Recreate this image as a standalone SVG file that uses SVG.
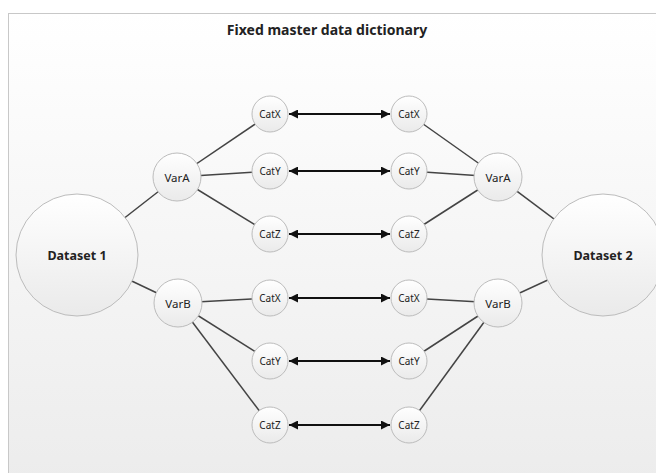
<svg xmlns="http://www.w3.org/2000/svg" width="656" height="473" viewBox="0 0 656 473">
<defs>
<linearGradient id="bg" x1="0" y1="0" x2="0" y2="1"><stop offset="0" stop-color="#ffffff"/><stop offset="1" stop-color="#ececec"/></linearGradient>
<linearGradient id="nf" x1="0" y1="0" x2="0" y2="1"><stop offset="0" stop-color="#ffffff"/><stop offset="1" stop-color="#eaeaea"/></linearGradient>
<marker id="ah" viewBox="0 0 10 10" refX="10" refY="5" markerWidth="11" markerHeight="9" markerUnits="userSpaceOnUse" orient="auto-start-reverse"><path d="M0,0 L10,5 L0,10 z" fill="#111"/></marker>
</defs>
<style>
.n{fill:url(#nf);stroke:#bcbcbc;stroke-width:1}
.t{font-family:"Noto Sans","Liberation Sans",sans-serif;fill:#222;text-anchor:middle;dominant-baseline:central}
.c{stroke:#444;stroke-width:1.5;fill:none}
.a{stroke:#111;stroke-width:2;fill:none;marker-start:url(#ah);marker-end:url(#ah)}
</style>
<rect x="0" y="0" width="656" height="473" fill="#ffffff"/>
<rect x="8.5" y="13.5" width="660" height="470" fill="url(#bg)" stroke="#c8c8c8" stroke-width="1"/>
<text class="t" x="327" y="29" font-size="14" font-weight="bold">Fixed master data dictionary</text>
<g id="connectors">
<line class="c" x1="77" y1="255" x2="177" y2="177"/>
<line class="c" x1="77" y1="255" x2="178" y2="303"/>
<line class="c" x1="177" y1="177" x2="270" y2="114"/>
<line class="c" x1="177" y1="177" x2="270" y2="171"/>
<line class="c" x1="177" y1="177" x2="270" y2="234"/>
<line class="c" x1="178" y1="303" x2="270" y2="298"/>
<line class="c" x1="178" y1="303" x2="270" y2="361"/>
<line class="c" x1="178" y1="303" x2="270" y2="425"/>
<line class="c" x1="409" y1="114" x2="498" y2="177"/>
<line class="c" x1="409" y1="171" x2="498" y2="177"/>
<line class="c" x1="409" y1="234" x2="498" y2="177"/>
<line class="c" x1="409" y1="298" x2="498" y2="303"/>
<line class="c" x1="409" y1="361" x2="498" y2="303"/>
<line class="c" x1="409" y1="425" x2="498" y2="303"/>
<line class="c" x1="498" y1="177" x2="602" y2="255"/>
<line class="c" x1="498" y1="303" x2="602" y2="255"/>
<line class="a" x1="289" y1="114" x2="390" y2="114"/>
<line class="a" x1="289" y1="171" x2="390" y2="171"/>
<line class="a" x1="289" y1="234" x2="390" y2="234"/>
<line class="a" x1="289" y1="298" x2="390" y2="298"/>
<line class="a" x1="289" y1="361" x2="390" y2="361"/>
<line class="a" x1="289" y1="425" x2="390" y2="425"/>
</g>
<g id="dataset1"><circle class="n" cx="77" cy="255" r="61"/><text class="t" x="77" y="255" font-size="12.5" font-weight="bold">Dataset 1</text></g>
<g id="dataset2"><circle class="n" cx="603" cy="255" r="61"/><text class="t" x="603" y="255" font-size="12.5" font-weight="bold">Dataset 2</text></g>
<g id="varA1"><circle class="n" cx="177" cy="177" r="24"/><text class="t" x="177" y="177" font-size="11.5">VarA</text></g>
<g id="varB1"><circle class="n" cx="178" cy="303" r="24"/><text class="t" x="178" y="303" font-size="11.5">VarB</text></g>
<g id="varA2"><circle class="n" cx="498" cy="177" r="24"/><text class="t" x="498" y="177" font-size="11.5">VarA</text></g>
<g id="varB2"><circle class="n" cx="498" cy="303" r="24"/><text class="t" x="498" y="303" font-size="11.5">VarB</text></g>
<g id="catX1a"><circle class="n" cx="270" cy="114" r="18"/><text class="t" x="270" y="114" font-size="10">CatX</text></g>
<g id="catY1a"><circle class="n" cx="270" cy="171" r="18"/><text class="t" x="270" y="171" font-size="10">CatY</text></g>
<g id="catZ1a"><circle class="n" cx="270" cy="234" r="18"/><text class="t" x="270" y="234" font-size="10">CatZ</text></g>
<g id="catX1b"><circle class="n" cx="270" cy="298" r="18"/><text class="t" x="270" y="298" font-size="10">CatX</text></g>
<g id="catY1b"><circle class="n" cx="270" cy="361" r="18"/><text class="t" x="270" y="361" font-size="10">CatY</text></g>
<g id="catZ1b"><circle class="n" cx="270" cy="425" r="18"/><text class="t" x="270" y="425" font-size="10">CatZ</text></g>
<g id="catX2a"><circle class="n" cx="409" cy="114" r="18"/><text class="t" x="409" y="114" font-size="10">CatX</text></g>
<g id="catY2a"><circle class="n" cx="409" cy="171" r="18"/><text class="t" x="409" y="171" font-size="10">CatY</text></g>
<g id="catZ2a"><circle class="n" cx="409" cy="234" r="18"/><text class="t" x="409" y="234" font-size="10">CatZ</text></g>
<g id="catX2b"><circle class="n" cx="409" cy="298" r="18"/><text class="t" x="409" y="298" font-size="10">CatX</text></g>
<g id="catY2b"><circle class="n" cx="409" cy="361" r="18"/><text class="t" x="409" y="361" font-size="10">CatY</text></g>
<g id="catZ2b"><circle class="n" cx="409" cy="425" r="18"/><text class="t" x="409" y="425" font-size="10">CatZ</text></g>
</svg>
